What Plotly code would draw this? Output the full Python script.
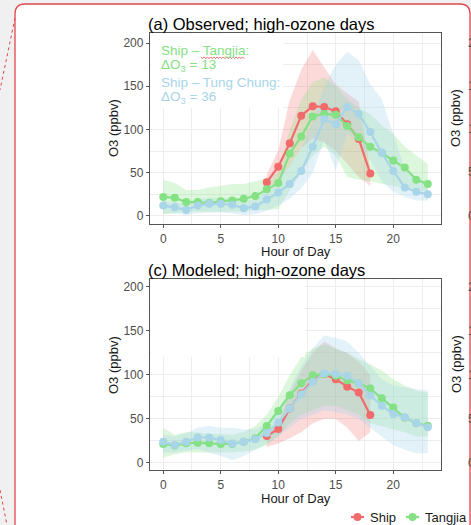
import plotly.graph_objects as go

W, H = 471, 525

# ---------------- data ----------------
hours = list(range(24))
ship_hours = list(range(9, 19))

# (a) Observed
obs_ship = [39, 57, 84, 116, 127, 126, 121, 106, 89, 49]
obs_ship_lo = [32, 40, 58, 78, 90, 85, 75, 60, 45, 35]
obs_ship_hi = [48, 76, 134, 169, 192, 172, 152, 142, 132, 55]

obs_tj = [22, 21, 16, 16, 15, 17, 18, 20, 23, 31, 38, 72, 92, 115, 118, 117, 104, 91, 80, 73, 64, 56, 42, 37]
obs_tj_lo = [2, 3, 5, 5, 5, 5, 5, 6, 7, 7, 8, 30, 50, 70, 80, 70, 45, 42, 40, 37, 35, 32, 30, 28]
obs_tj_hi = [42, 38, 30, 30, 33, 35, 37, 37, 40, 44, 50, 100, 135, 155, 160, 150, 135, 125, 118, 105, 95, 80, 70, 60]

obs_tc = [12, 10, 7, 12, 14, 14, 13, 9, 11, 19, 27, 37, 52, 80, 112, 106, 126, 118, 97, 73, 52, 33, 28, 25]
obs_tc_lo = [3, 3, 1, 3, 4, 4, 3, 1, 2, 6, 12, 20, 32, 50, 88, 53, 95, 85, 65, 40, 28, 22, 18, 18]
obs_tc_hi = [17, 16, 14, 19, 21, 21, 20, 17, 19, 30, 42, 58, 78, 110, 150, 175, 190, 180, 152, 135, 95, 55, 45, 38]

# (c) Modeled
mod_ship = [30.7, 38.6, 62, 79, 94, 101, 95, 86.7, 80, 54.5]
mod_ship_lo = [18, 22, 28, 35, 45, 50, 50, 40, 25, 35]
mod_ship_hi = [35, 45, 80, 105, 125, 138, 130, 125, 115, 100]

mod_tj = [21.6, 19.7, 22.3, 23, 22.3, 21.6, 21.6, 24, 28, 42, 59, 77, 90.5, 99.6, 101, 99, 94, 90.5, 84.5, 73.5, 63, 51.5, 45, 42.4]
mod_tj_lo = [6, 10, 12, 12, 12, 12, 12, 13, 15, 20, 30, 45, 55, 60, 65, 65, 60, 55, 45, 42, 38, 35, 30, 30]
mod_tj_hi = [40, 32, 35, 35, 33, 33, 32, 35, 42, 55, 75, 100, 120, 130, 135, 130, 125, 118, 112, 105, 95, 88, 82, 80]

mod_tc = [24, 20.5, 24, 29, 29, 26, 22, 24, 27, 34, 46, 62, 78, 92, 102, 101, 99, 90.5, 76.5, 65, 55.7, 52, 45, 40.5]
mod_tc_lo = [12, 12, 14, 16, 12, 8, 3, 8, 15, 22, 30, 40, 50, 55, 60, 58, 55, 50, 40, 30, 20, 15, 11, 11]
mod_tc_hi = [32, 30, 34, 40, 42, 40, 40, 38, 38, 45, 60, 85, 110, 130, 145, 142, 138, 125, 110, 95, 88, 86, 84, 82]

sites = ["Ship", "Tangjia", "Tung Chung"]
x_ticks = [0, 5, 10, 15, 20]
y_ticks = [0, 50, 100, 150, 200]

# ---------------- style ----------------
FONT = "Liberation Sans, Arial, Helvetica, sans-serif"
C_SHIP, C_TJ, C_TC = "#F26B6B", "#84E184", "#A8D5E8"
F_SHIP = "rgba(242,107,107,0.25)"
F_TJ = "rgba(132,225,132,0.28)"
F_TC = "rgba(168,213,232,0.32)"
GRID = "#EDEDED"
TICKC = "#4D4D4D"


def px(x):
    return x / W


def py(y):
    return 1 - y / H


fig = go.Figure()


def add_panel(xa, ya, ship, ship_lo, ship_hi, tj, tj_lo, tj_hi, tc, tc_lo, tc_hi):
    series = [
        (ship_hours, ship, ship_lo, ship_hi, C_SHIP, F_SHIP),
        (hours, tj, tj_lo, tj_hi, C_TJ, F_TJ),
        (hours, tc, tc_lo, tc_hi, C_TC, F_TC),
    ]
    for xs, _, lo, hi, _, fc in series:
        fig.add_trace(go.Scatter(
            x=list(xs) + list(xs)[::-1], y=list(hi) + list(lo)[::-1],
            fill="toself", fillcolor=fc, line=dict(width=0), mode="lines",
            hoverinfo="skip", showlegend=False, xaxis=xa, yaxis=ya))
    for (xs, v, _, _, c, _), name in zip(series, sites):
        fig.add_trace(go.Scatter(
            x=xs, y=v, mode="lines+markers", name=name,
            line=dict(color=c, width=2.2), marker=dict(color=c, size=8),
            showlegend=False, xaxis=xa, yaxis=ya))


add_panel("x", "y", obs_ship, obs_ship_lo, obs_ship_hi, obs_tj, obs_tj_lo, obs_tj_hi,
          obs_tc, obs_tc_lo, obs_tc_hi)
add_panel("x2", "y2", mod_ship, mod_ship_lo, mod_ship_hi, mod_tj, mod_tj_lo, mod_tj_hi,
          mod_tc, mod_tc_lo, mod_tc_hi)

xa_common = dict(
    range=[-1.15, 24.15], tickvals=x_ticks, showgrid=True, gridcolor=GRID, gridwidth=1.1,
    minor=dict(tickvals=[2.5, 7.5, 12.5, 17.5, 22.5], showgrid=True, gridcolor=GRID, gridwidth=0.6),
    showline=True, mirror=True, linecolor="#555555", linewidth=1.3, zeroline=False,
    ticks="outside", ticklen=3, tickcolor="#555555", tickwidth=1,
    tickfont=dict(family=FONT, size=12, color=TICKC), domain=[px(150), px(441)],
    layer="above traces",
)
ya_common = dict(
    tickvals=y_ticks, showgrid=True, gridcolor=GRID, gridwidth=1.1,
    minor=dict(tickvals=[25, 75, 125, 175], showgrid=True, gridcolor=GRID, gridwidth=0.6),
    showline=True, mirror=True, linecolor="#555555", linewidth=1.3, zeroline=False,
    ticks="outside", ticklen=3, tickcolor="#555555", tickwidth=1,
    tickfont=dict(family=FONT, size=12, color=TICKC),
)

fig.update_layout(
    width=W, height=H, margin=dict(l=0, r=0, t=0, b=0),
    paper_bgcolor="#F0F0F0", plot_bgcolor="white",
    font=dict(family=FONT),
    xaxis=dict(xa_common, anchor="y"),
    xaxis2=dict(xa_common, anchor="y2"),
    yaxis=dict(ya_common, anchor="x", range=[-9.3, 211.6], domain=[py(224), py(33)]),
    yaxis2=dict(ya_common, anchor="x2", range=[-8, 209], domain=[py(470), py(279)]),
    showlegend=False,
)

shapes = []
# white card with red rounded border
r = 10
card = (f"M {px(15)},{py(530)} L {px(15)},{py(4 + r)} Q {px(15)},{py(4)} {px(15 + r)},{py(4)} "
        f"L {px(470 - r)},{py(4)} Q {px(470)},{py(4)} {px(470)},{py(4 + r)} L {px(470)},{py(530)} Z")
shapes.append(dict(type="path", path=card, xref="paper", yref="paper", fillcolor="white",
                   line=dict(color="#E0474C", width=1.3), layer="below"))
# dotted red guide lines at left
shapes.append(dict(type="line", xref="paper", yref="paper", x0=px(15), y0=py(18), x1=px(0), y1=py(90),
                   line=dict(color="#E0474C", width=1, dash="dot"), layer="below"))
shapes.append(dict(type="line", xref="paper", yref="paper", x0=px(0), y0=py(490), x1=px(7), y1=py(525),
                   line=dict(color="#E0474C", width=1, dash="dot"), layer="below"))
# white label boxes in the panels (hide the grid), inset to keep the panel border
shapes.append(dict(type="rect", xref="paper", yref="paper", x0=px(151), x1=px(283),
                   y0=py(108), y1=py(34), fillcolor="white", line=dict(width=0), layer="above"))
shapes.append(dict(type="rect", xref="paper", yref="paper", x0=px(151), x1=px(305),
                   y0=py(357), y1=py(280), fillcolor="white", line=dict(width=0), layer="above"))
# red spell-check squiggle under "Tangjia"
zz = []
xx = 201.0
k = 0
while xx <= 245:
    yy = 57.5 + (1.1 if k % 2 else -0.6)
    zz.append(("M" if k == 0 else "L") + f" {px(xx)},{py(yy)}")
    xx += 1.6
    k += 1
shapes.append(dict(type="path", path=" ".join(zz), xref="paper", yref="paper",
                   line=dict(color="#E0474C", width=0.8), layer="above"))
# legend keys
for x0, c in [(351, C_SHIP), (406, C_TJ)]:
    shapes.append(dict(type="line", xref="paper", yref="paper", x0=px(x0), x1=px(x0 + 13),
                       y0=py(517), y1=py(517), line=dict(color=c, width=2.2), layer="above"))
    shapes.append(dict(type="circle", xref="paper", yref="paper", x0=px(x0 + 6.5 - 4), x1=px(x0 + 6.5 + 4),
                       y0=py(517 + 4), y1=py(517 - 4), fillcolor=c, line=dict(width=0), layer="above"))
fig.update_layout(shapes=shapes)

ann = []


def A(text, x, y, xanchor="center", yanchor="middle", size=12, color="black", angle=0):
    ann.append(dict(text=text, x=px(x), y=py(y), xref="paper", yref="paper", showarrow=False,
                    xanchor=xanchor, yanchor=yanchor, textangle=angle, borderpad=0,
                    font=dict(family=FONT, size=size, color=color)))


A("(a) Observed; high-ozone days", 147, 24, xanchor="left", size=16.5)
A("(c) Modeled; high-ozone days", 147, 270, xanchor="left", size=16.5)
A("O3 (ppbv)", 113, 128, size=13, color="#1A1A1A", angle=-90)
A("O3 (ppbv)", 113, 365, size=13, color="#1A1A1A", angle=-90)
A("Hour of Day", 295.5, 251.5, size=13, color="#1A1A1A")
A("Hour of Day", 295.5, 498.5, size=13, color="#1A1A1A")
# clipped neighbouring panel on the right
A("O3 (ppbv)", 456, 118, size=13, color="#1A1A1A", angle=-90)
A("O3 (ppbv)", 456, 364, size=13, color="#1A1A1A", angle=-90)
for v, yy in zip(y_ticks[::-1], [43, 86, 129, 172, 216]):
    A(str(v), 467, yy, xanchor="left", size=12, color=TICKC)
for v, yy in zip(y_ticks[::-1], [287, 331, 375, 419, 463]):
    A(str(v), 467, yy, xanchor="left", size=12, color=TICKC)
# in-panel label
A("Ship – Tangjia:", 160, 50, xanchor="left", size=13.5, color=C_TJ)
A("ΔO<sub>3</sub> = 13", 160, 66, xanchor="left", size=13.5, color=C_TJ)
A("Ship – Tung Chung:", 160, 82, xanchor="left", size=13.5, color=C_TC)
A("ΔO<sub>3</sub> = 36", 160, 98, xanchor="left", size=13.5, color=C_TC)
# legend labels
A("Ship", 369, 517, xanchor="left", size=13, color="#1A1A1A")
A("Tangjia", 424, 517, xanchor="left", size=13, color="#1A1A1A")
fig.update_layout(annotations=ann)

fig.write_html("out.html")
